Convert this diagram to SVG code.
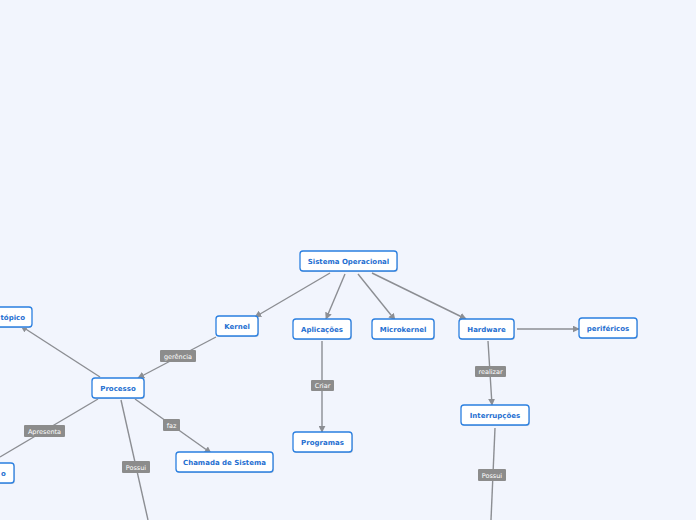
<svg xmlns="http://www.w3.org/2000/svg" width="696" height="520" viewBox="0 0 696 520">
<defs>
<style>
.n rect.b{fill:#fff;stroke:#2a7fe0;stroke-width:1.3}
.n rect.s{fill:#c9d0dc}
.n text{font-family:"DejaVu Sans",Verdana,sans-serif;font-weight:bold;font-size:7px;fill:#1f6fd1;text-anchor:middle}
.n text.st{text-anchor:start}
.c line{stroke:#8c8e93;stroke-width:1.4;fill:none}
.c .a{marker-end:url(#ah)}
.l rect{fill:#8c8c8c}
.l text{font-family:"DejaVu Sans",Verdana,sans-serif;font-size:6.5px;fill:#fff;text-anchor:middle}
</style>
<marker id="ah" viewBox="0 0 10 10" refX="9" refY="5" markerWidth="7" markerHeight="7" markerUnits="userSpaceOnUse" orient="auto">
<path d="M0,0 L10,5 L0,10 z" fill="#8c8e93"/>
</marker>
</defs>
<rect width="696" height="520" fill="#f2f5fd"/>
<g id="connectors" class="c">
<line class="a" x1="330" y1="273" x2="255" y2="317"/>
<line class="a" x1="345" y1="274" x2="326" y2="319"/>
<line class="a" x1="358" y1="274" x2="395" y2="320"/>
<line class="a" x1="372" y1="273" x2="466" y2="319"/>
<line class="a" x1="216" y1="337" x2="138" y2="378"/>
<line class="a" x1="100" y1="377" x2="21" y2="326"/>
<line x1="98" y1="399" x2="0" y2="457"/>
<line x1="121" y1="400" x2="148" y2="520"/>
<line class="a" x1="135" y1="399" x2="211" y2="453"/>
<line class="a" x1="322" y1="341" x2="322" y2="432"/>
<line class="a" x1="517" y1="329" x2="579" y2="329"/>
<line class="a" x1="488" y1="341" x2="492" y2="405"/>
<line x1="495" y1="428" x2="491" y2="520"/>
</g>
<g id="labels" class="l">
<g id="lbl-gerencia"><rect x="160" y="350" width="36" height="12" rx="1"/><text x="178" y="358.5">gerência</text></g>
<g id="lbl-apresenta"><rect x="24" y="425" width="41" height="12" rx="1"/><text x="44.5" y="433.5">Apresenta</text></g>
<g id="lbl-possui1"><rect x="122" y="461" width="28" height="12" rx="1"/><text x="136" y="469.5">Possui</text></g>
<g id="lbl-faz"><rect x="163" y="419" width="17" height="12" rx="1"/><text x="171.5" y="427.5">faz</text></g>
<g id="lbl-criar"><rect x="311" y="380" width="23" height="11" rx="1"/><text x="322.5" y="388">Criar</text></g>
<g id="lbl-realizar"><rect x="475" y="366" width="31" height="11" rx="1"/><text x="490.5" y="374">realizar</text></g>
<g id="lbl-possui2"><rect x="478" y="469" width="28" height="12" rx="1"/><text x="492" y="477.5">Possui</text></g>
</g>
<g id="n-so" class="n"><rect class="s" x="301" y="252" width="97" height="20" rx="3"/><rect class="b" x="300" y="251" width="97" height="20" rx="3"/><text x="348.5" y="263.5">Sistema Operacional</text></g>
<g id="n-kernel" class="n"><rect class="s" x="217" y="317" width="42" height="20" rx="3"/><rect class="b" x="216" y="316" width="42" height="20" rx="3"/><text x="237" y="328.5">Kernel</text></g>
<g id="n-topico" class="n"><rect class="s" x="-29" y="308" width="61" height="20" rx="3"/><rect class="b" x="-30" y="307" width="62" height="20" rx="3"/><text class="st" x="0.5" y="319.5">tópico</text></g>
<g id="n-processo" class="n"><rect class="s" x="93" y="379" width="52" height="20" rx="3"/><rect class="b" x="92" y="378" width="52" height="20" rx="3"/><text x="118" y="390.5">Processo</text></g>
<g id="n-aplicacoes" class="n"><rect class="s" x="294" y="320" width="58" height="20" rx="3"/><rect class="b" x="293" y="319" width="58" height="20" rx="3"/><text x="322" y="331.5">Aplicações</text></g>
<g id="n-microkernel" class="n"><rect class="s" x="373" y="320" width="62" height="20" rx="3"/><rect class="b" x="372" y="319" width="62" height="20" rx="3"/><text x="403" y="331.5">Microkernel</text></g>
<g id="n-programas" class="n"><rect class="s" x="294" y="433" width="59" height="20" rx="3"/><rect class="b" x="293" y="432" width="59" height="20" rx="3"/><text x="322.5" y="444.5">Programas</text></g>
<g id="n-hardware" class="n"><rect class="s" x="460" y="320" width="55" height="20" rx="3"/><rect class="b" x="459" y="319" width="55" height="20" rx="3"/><text x="486.5" y="331.5">Hardware</text></g>
<g id="n-perifericos" class="n"><rect class="s" x="580" y="319" width="58" height="20" rx="3"/><rect class="b" x="579" y="318" width="58" height="20" rx="3"/><text x="608" y="330.5">periféricos</text></g>
<g id="n-interrupcoes" class="n"><rect class="s" x="462" y="406" width="68" height="20" rx="3"/><rect class="b" x="461" y="405" width="68" height="20" rx="3"/><text x="495" y="417.5">Interrupções</text></g>
<g id="n-chamada" class="n"><rect class="s" x="177" y="453" width="97" height="20" rx="3"/><rect class="b" x="176" y="452" width="97" height="20" rx="3"/><text x="224.5" y="464.5">Chamada de Sistema</text></g>
<g id="n-left" class="n"><rect class="s" x="-59" y="464" width="74" height="20" rx="3"/><rect class="b" x="-60" y="463" width="74" height="20" rx="3"/><text class="st" x="1" y="475.5">o</text></g>
</svg>
